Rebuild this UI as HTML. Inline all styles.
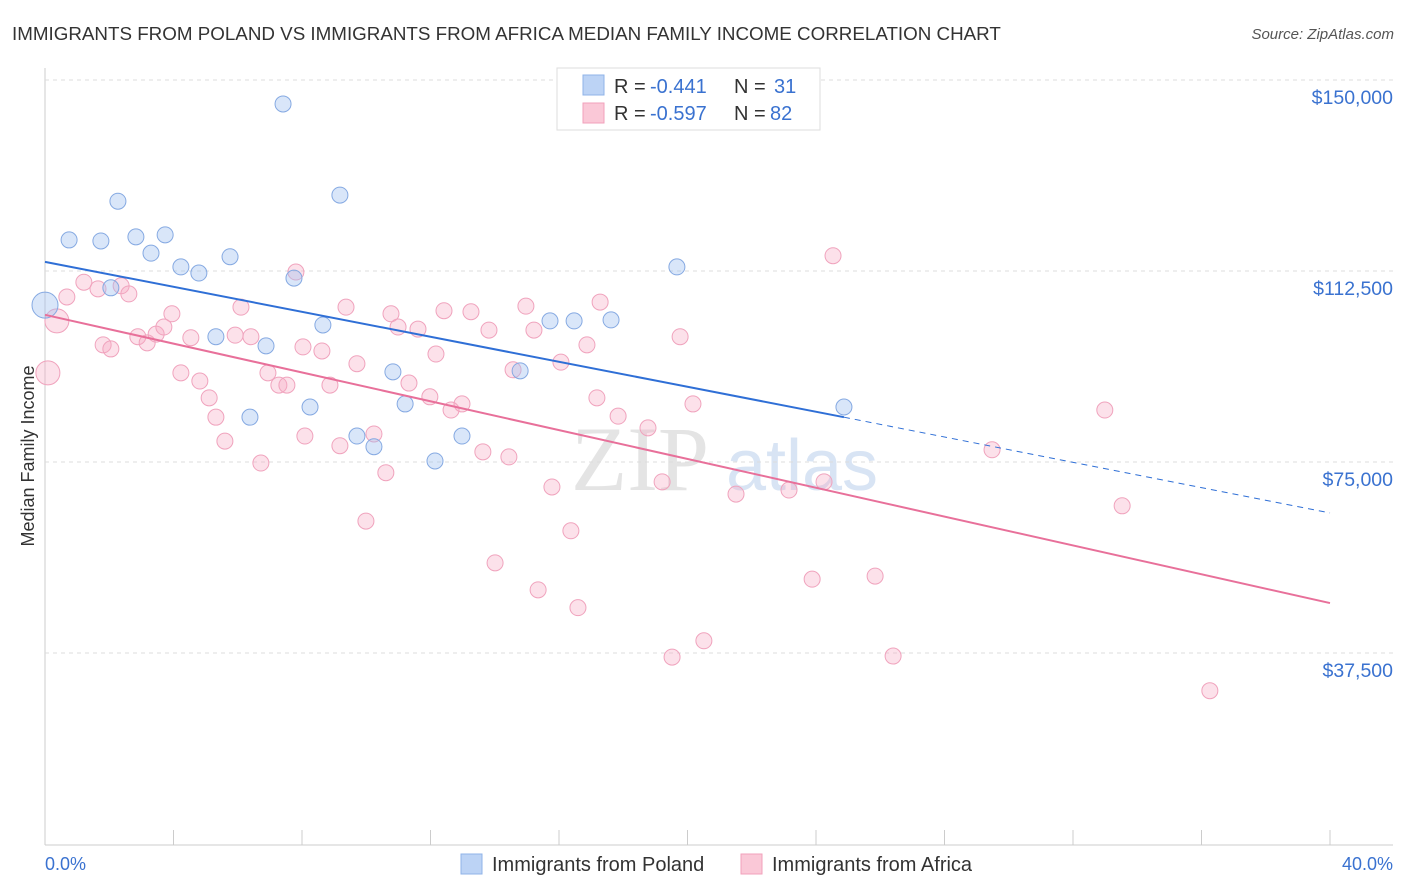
<!DOCTYPE html>
<html><head><meta charset="utf-8"><style>
body{margin:0;background:#fff;font-family:"Liberation Sans",sans-serif;}
svg{display:block}
</style></head><body>
<svg id="chart" width="1406" height="892">
<text x="12" y="40" font-size="18.8" fill="#333">IMMIGRANTS FROM POLAND VS IMMIGRANTS FROM AFRICA MEDIAN FAMILY INCOME CORRELATION CHART</text>
<text x="1394" y="39" font-size="15" fill="#555" font-style="italic" text-anchor="end">Source: ZipAtlas.com</text>
<text x="640" y="490" font-size="92" fill="#e4e4e4" font-family="Liberation Serif,serif" text-anchor="middle">ZIP</text>
<text x="802" y="490" font-size="72" fill="#d8e4f4" text-anchor="middle">atlas</text>
<text transform="translate(34,456) rotate(-90)" font-size="18" fill="#333" text-anchor="middle">Median Family Income</text>
<g id="grid"></g><g id="pts"></g><g id="lines"></g>
<g>
<rect x="557" y="68" width="263" height="62" fill="#fff" stroke="#ddd"/>
<rect x="583" y="75" width="21" height="20" fill="#bcd3f5" stroke="#8fb3e8"/>
<rect x="583" y="103" width="21" height="20" fill="#fac8d7" stroke="#f1a1bb"/>
<text x="614" y="93" font-size="20" fill="#333">R =</text>
<text x="650" y="93" font-size="20" fill="#3a72d0">-0.441</text>
<text x="734" y="93" font-size="20" fill="#333">N =</text>
<text x="774" y="93" font-size="20" fill="#3a72d0">31</text>
<text x="614" y="120" font-size="20" fill="#333">R =</text>
<text x="650" y="120" font-size="20" fill="#3a72d0">-0.597</text>
<text x="734" y="120" font-size="20" fill="#333">N =</text>
<text x="770" y="120" font-size="20" fill="#3a72d0">82</text>
</g>
<g>
<rect x="461" y="854" width="21" height="20" fill="#bcd3f5" stroke="#8fb3e8"/>
<text x="492" y="871" font-size="20" fill="#333">Immigrants from Poland</text>
<rect x="741" y="854" width="21" height="20" fill="#fac8d7" stroke="#f1a1bb"/>
<text x="772" y="871" font-size="20" fill="#333">Immigrants from Africa</text>
</g>
<text x="45" y="870" font-size="18" fill="#3a72d0">0.0%</text>
<text x="1393" y="870" font-size="18" fill="#3a72d0" text-anchor="end">40.0%</text>
</svg>
<script>
const yTicks=[150000,112500,75000,37500];
const yTickLabels=["$150,000","$112,500","$75,000","$37,500"];
const xTicks=[0,4,8,12,16,20,24,28,32,36,40];
const polandX=[0,0.75,1.74,2.27,2.83,3.30,3.74,4.23,4.79,5.76,7.41,7.75,9.18,2.05,5.32,6.38,6.88,8.25,8.65,9.71,10.24,10.83,11.21,12.14,12.98,14.79,15.72,16.47,17.62,19.67,24.87];
const polandY=[105800,118600,118400,126200,119200,116000,119600,113300,112100,115300,145300,111100,127400,109200,99600,83800,97800,85800,101900,80100,78000,92700,86400,75200,80100,92900,102700,102700,102900,113300,85800];
const polandSize=[13,8,8,8,8,8,8,8,8,8,8,8,8,8,8,8,8,8,8,8,8,8,8,8,8,8,8,8,8,8,8];
const africaX=[0.09,0.37,0.68,1.21,1.65,1.81,2.05,2.37,2.61,2.89,3.18,3.46,3.70,3.95,4.23,4.54,4.82,5.11,5.32,5.60,5.92,6.10,6.41,6.72,6.94,7.28,7.53,7.81,8.03,8.09,8.62,8.87,9.18,9.37,9.71,9.99,10.24,10.61,10.77,10.99,11.33,11.61,11.98,12.17,12.42,12.64,12.98,13.26,13.63,13.82,14.01,14.44,14.57,14.97,15.22,15.35,15.78,16.06,16.37,16.59,16.87,17.18,17.28,17.84,18.77,19.21,19.52,19.77,20.17,20.51,21.51,23.16,23.88,24.25,24.53,25.84,26.40,29.48,32.99,33.53,36.26];
const africaY=[92500,102700,107400,110300,109000,98000,97200,109600,108000,99600,98400,100100,101500,104100,92500,99400,90900,87600,83800,79100,99900,105400,99600,74800,92500,90100,90100,112300,97600,80100,96800,90100,78200,105400,94300,63400,80500,72900,104100,101500,90500,101100,87800,96200,104700,85200,86400,104500,77000,100900,55200,76000,93100,105600,100900,49900,70100,94600,61500,46400,98000,87600,106400,84000,81700,71100,36700,99600,86400,39900,68700,69500,52000,71100,115500,52600,36900,77400,85200,66400,30100];
const africaBig=[0,1];
const polandTrend=[114300,83800,65000];
const polandTrendX=[0,24.87,40];
const africaTrend=[103900,47300];
const africaTrendX=[0,40];

const NS="http://www.w3.org/2000/svg";
const X=p=>45+p*(1330-45)/40;
const Y=v=>80+(150000-v)*191/37500;
function mk(tag,attrs,parent){const e=document.createElementNS(NS,tag);for(const k in attrs)e.setAttribute(k,attrs[k]);parent.appendChild(e);return e;}
const grid=document.getElementById('grid'),pts=document.getElementById('pts'),lines=document.getElementById('lines');
mk('line',{x1:45,y1:68,x2:45,y2:845,stroke:'#ccc'},grid);
mk('line',{x1:45,y1:845,x2:1393,y2:845,stroke:'#ccc'},grid);
yTicks.forEach((v,i)=>{
  const g=mk('line',{x1:45,y1:Y(v),x2:1393,y2:Y(v),stroke:'#ddd','stroke-dasharray':'4,4'},grid);
  
  
  const t=mk('text',{x:1393,y:Y(v)+24,'font-size':19.5,fill:'#3a72d0','text-anchor':'end'},grid);
  t.textContent=yTickLabels[i];
  
  
});
xTicks.forEach(p=>{
  const t=mk('line',{x1:X(p),y1:830,x2:X(p),y2:845,stroke:'#ccc'},grid);
  
  
});
africaX.forEach((p,i)=>{
  const c=mk('circle',{cx:X(p),cy:Y(africaY[i]),r:africaBig.includes(i)?12:8,fill:'rgba(246,170,196,0.35)',stroke:'#f0a3bd','stroke-width':1},pts);
  
  
});
polandX.forEach((p,i)=>{
  const c=mk('circle',{cx:X(p),cy:Y(polandY[i]),r:polandSize[i],fill:'rgba(160,192,240,0.4)',stroke:'#85a9e2','stroke-width':1},pts);
  
  
});
let l=mk('line',{x1:X(polandTrendX[0]),y1:Y(polandTrend[0]),x2:X(polandTrendX[1]),y2:Y(polandTrend[1]),stroke:'#2f6fd6','stroke-width':2},lines);


l=mk('line',{x1:X(polandTrendX[1]),y1:Y(polandTrend[1]),x2:X(polandTrendX[2]),y2:Y(polandTrend[2]),stroke:'#2f6fd6','stroke-width':1,'stroke-dasharray':'6,5'},lines);


l=mk('line',{x1:X(africaTrendX[0]),y1:Y(africaTrend[0]),x2:X(africaTrendX[1]),y2:Y(africaTrend[1]),stroke:'#e8709a','stroke-width':2},lines);


</script>
</body></html>
